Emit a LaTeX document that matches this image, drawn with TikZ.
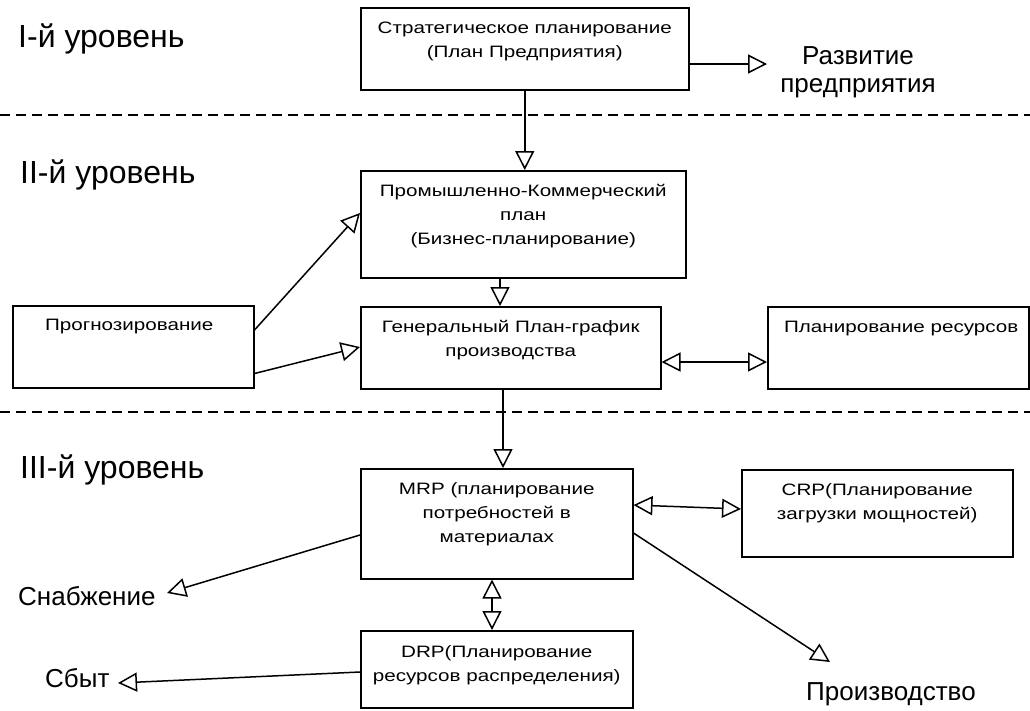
\documentclass[tikz,border=0pt]{standalone}
\usepackage{fontspec}
\setmainfont{Liberation Sans}
\newfontfamily\boxfont[FakeStretch=1.25]{Liberation Sans}
\usetikzlibrary{arrows.meta,calc}
\begin{document}
\begin{tikzpicture}[x=1pt,y=-1pt,
  box/.style={draw, line width=1.5pt, inner sep=0pt, anchor=north west},
  btxt/.style={anchor=north, inner sep=0pt, align=center, font=\boxfont\fontsize{16.5}{24}\selectfont},
  lvl/.style={anchor=base west, inner sep=0pt, font=\fontsize{32}{38}\selectfont},
  side/.style={inner sep=0pt, font=\fontsize{26}{28}\selectfont},
  con/.style={line width=1.5pt},
  tip/.style={-{Triangle[open,length=19pt,width=19pt,line width=1.5pt]}},
  dtip/.style={{Triangle[open,length=19pt,width=19pt,line width=1.5pt]}-{Triangle[open,length=19pt,width=19pt,line width=1.5pt]}},
  sep/.style={line width=1.6pt, dash pattern=on 10pt off 6pt}
]
\useasboundingbox (0,0) rectangle (1030,710);

% separators
\draw[sep] (0,115) -- (1030,115);
\draw[sep] (0,412) -- (1030,412);

% level labels
\node[lvl] (l1) at (18,47) {I-й уровень};
\node[lvl] (l2) at (20,183) {II-й уровень};
\node[lvl] (l3) at (20,478) {III-й уровень};

% boxes
\node[box, minimum width=328pt, minimum height=82pt] (b1) at (360,7) {};
\node[box, minimum width=325pt, minimum height=107pt] (b2) at (360,170) {};
\node[box, minimum width=300pt, minimum height=82pt] (b3) at (360,306) {};
\node[box, minimum width=241pt, minimum height=82pt] (prog) at (12,305) {};
\node[box, minimum width=261pt, minimum height=82pt] (res) at (767,306) {};
\node[box, minimum width=272pt, minimum height=110pt] (mrp) at (360,468) {};
\node[box, minimum width=271pt, minimum height=87pt] (crp) at (741,469) {};
\node[box, minimum width=272pt, minimum height=77pt] (drp) at (360,630) {};

% box texts
\node[btxt] (t1) at ($(b1.north)+(0,9)$) {\strut Стратегическое планирование\\\strut (План Предприятия)};
\node[btxt] (t2) at ($(b2.north)+(0,9)$) {\strut Промышленно-Коммерческий\\\strut план\\\strut (Бизнес-планирование)};
\node[btxt] (t3) at ($(b3.north)+(0,9)$) {\strut Генеральный План-график\\\strut производства};
\node[btxt] (tp) at ($(prog.north)+(-4,8)$) {\strut Прогнозирование};
\node[btxt] (tr) at ($(res.north)+(3,9)$) {\strut Планирование ресурсов};
\node[btxt] (tm) at ($(mrp.north)+(0,9)$) {\strut MRP (планирование\\\strut потребностей в\\\strut материалах};
\node[btxt] (tc) at ($(crp.north)+(0,9)$) {\strut CRP(Планирование\\\strut загрузки мощностей)};
\node[btxt] (td) at ($(drp.north)+(0,10)$) {\strut DRP(Планирование\\\strut ресурсов распределения)};

% side labels
\node[side, anchor=north, align=center] (dev) at (858,46) {Развитие\\предприятия};
\node[side, anchor=base west] (sup) at (18,605) {Снабжение};
\node[side, anchor=base west] (sale) at (45,687) {Сбыт};
\node[side, anchor=base west] (prod) at (806,700) {Производство};

% free ends
\coordinate (devtip) at (767,64);
\coordinate (suptip) at (167,593);
\coordinate (saletip) at (118,683);
\coordinate (prodtip) at (830,662);

% connectors
\draw[con,tip] (b1.east |- devtip) -- (devtip);
\draw[con,tip] (b1.south) -- (b1.south |- b2.north);
\draw[con,tip] ($(prog.north east)+(0,25)$) -- ($(b2.north west)+(0,43)$);
\draw[con,tip] ($(prog.south east)+(0,-15)$) -- ($(b3.north west)+(0,41)$);
\draw[con,tip] ($(b2.south west)+(140,0)$) -- ($(b3.north west)+(140,0)$);
\draw[con,dtip] ($(b3.north east)+(0,56)$) -- ($(res.north west)+(0,56)$);
\draw[con,tip] ($(b3.south west)+(143,0)$) -- ($(mrp.north west)+(143,0)$);
\draw[con,dtip] ($(mrp.north east)+(0,37)$) -- ($(crp.north west)+(0,40)$);
\draw[con,tip] ($(mrp.north west)+(0,67)$) -- (suptip);
\draw[con,dtip] ($(mrp.south west)+(132,0)$) -- ($(drp.north west)+(132,0)$);
\draw[con,tip] ($(drp.north west)+(0,42)$) -- (saletip);
\draw[con,tip] ($(mrp.north east)+(0,65)$) -- (prodtip);
\end{tikzpicture}
\end{document}
